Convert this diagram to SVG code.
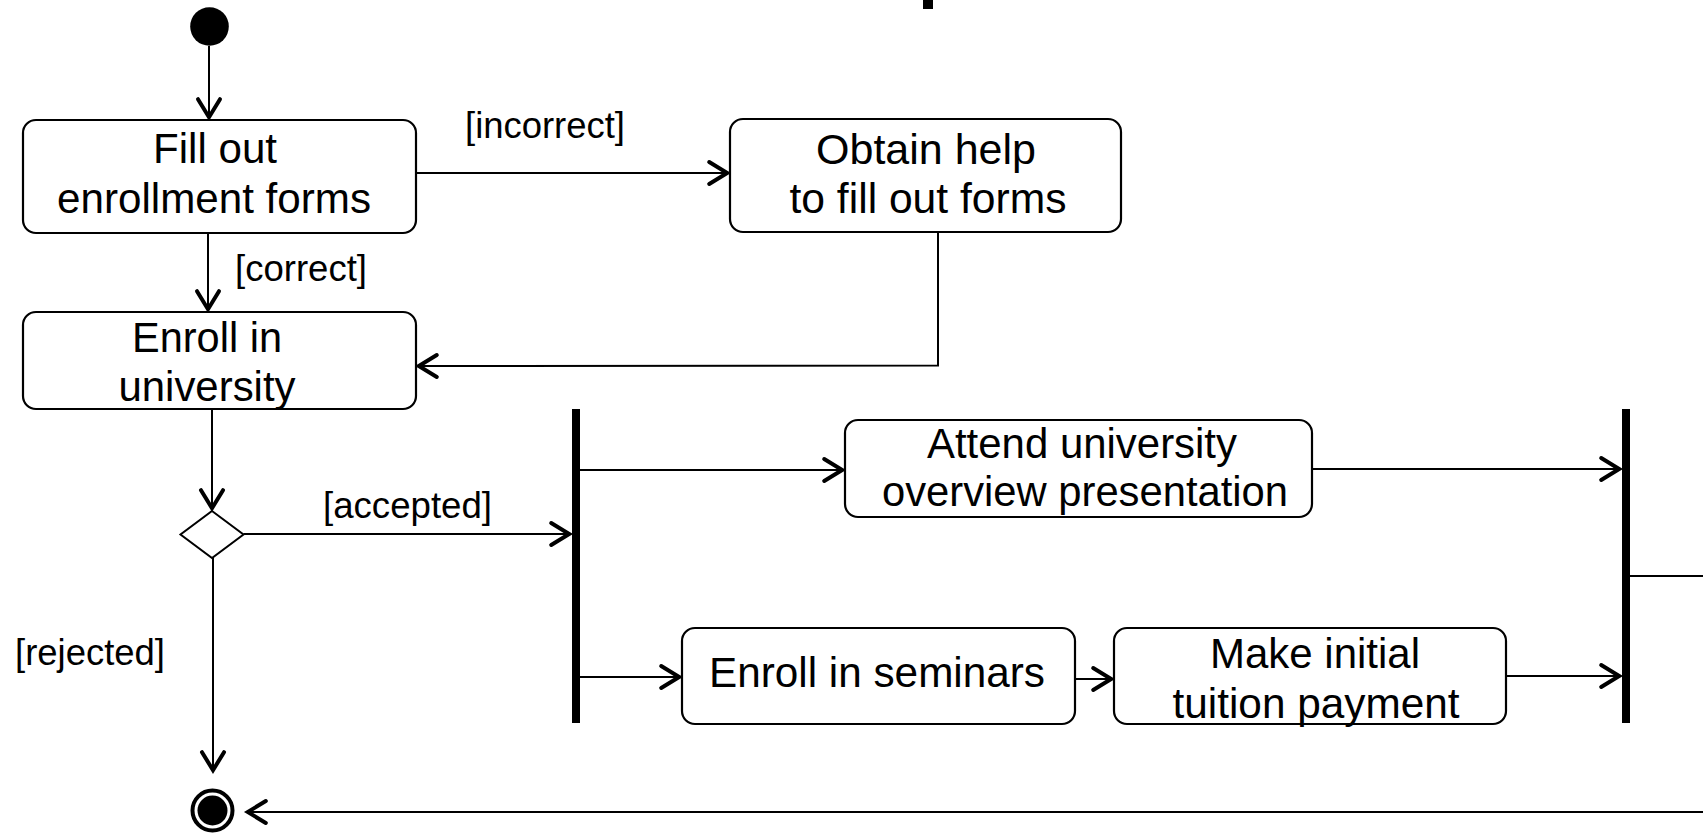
<svg xmlns="http://www.w3.org/2000/svg" width="1703" height="835" viewBox="0 0 1703 835">
  <style>
    .act { fill: #fff; stroke: #000; stroke-width: 2.2; }
    .lbl { font-family: "Liberation Sans", Arial, sans-serif; font-size: 42px; fill: #000; }
    .grd { font-family: "Liberation Sans", Arial, sans-serif; font-size: 37px; fill: #000; }
    .flow { fill: none; stroke: #000; stroke-width: 2; marker-end: url(#open); }
    .plain { fill: none; stroke: #000; stroke-width: 2; }
    .bar { fill: #000; }
  </style>
  <defs>
    <marker id="open" markerUnits="userSpaceOnUse" markerWidth="30" markerHeight="30" viewBox="-22 -15 26 30" refX="1.8" refY="0" orient="auto">
      <path d="M -18 -11 L 0 0 L -18 11" fill="none" stroke="#000" stroke-width="4" stroke-linejoin="miter" stroke-linecap="round"/>
    </marker>
  </defs>

  <rect width="1703" height="835" fill="#fff"/>

  <!-- piece of the heading above the diagram -->
  <rect x="923" y="0" width="10" height="9" fill="#000"/>

  <g id="connectors">
    <path class="flow" d="M 209 46 L 209 119"/>
    <path class="flow" d="M 208 233 L 208 311"/>
    <path class="flow" d="M 416 173 L 729 173"/>
    <path class="flow" d="M 938 232 L 938 365.5 L 417 366"/>
    <path class="flow" d="M 212 409 L 212 510"/>
    <path class="flow" d="M 243.5 534 L 571 534"/>
    <path class="flow" d="M 213 558 L 213 772"/>
    <path class="flow" d="M 580 470 L 844 470"/>
    <path class="flow" d="M 580 677 L 681 677"/>
    <path class="flow" d="M 1075 679 L 1113 679"/>
    <path class="flow" d="M 1312 469 L 1621 469"/>
    <path class="flow" d="M 1506 676 L 1621 676"/>
    <path class="plain" d="M 1630 576 L 1703 576"/>
    <path class="flow" d="M 1703 812 L 246 812"/>
    <text class="grd" x="465" y="138" textLength="160" lengthAdjust="spacingAndGlyphs">[incorrect]</text>
    <text class="grd" x="235" y="281" textLength="132" lengthAdjust="spacingAndGlyphs">[correct]</text>
    <text class="grd" x="323" y="517.5" textLength="169" lengthAdjust="spacingAndGlyphs">[accepted]</text>
    <text class="grd" x="15" y="664.5" textLength="150" lengthAdjust="spacingAndGlyphs">[rejected]</text>
  </g>

  <g id="start">
    <circle cx="209.5" cy="26.5" r="19.3" fill="#000"/>
  </g>

  <g id="fill-forms">
    <rect class="act" x="23" y="120" width="393" height="113" rx="13"/>
    <text class="lbl" x="215" y="163" text-anchor="middle" textLength="124" lengthAdjust="spacingAndGlyphs">Fill out</text>
    <text class="lbl" x="214" y="213" text-anchor="middle" textLength="314" lengthAdjust="spacingAndGlyphs">enrollment forms</text>
  </g>

  <g id="obtain-help">
    <rect class="act" x="730" y="119" width="391" height="113" rx="13"/>
    <text class="lbl" x="926" y="164" text-anchor="middle" textLength="220" lengthAdjust="spacingAndGlyphs">Obtain help</text>
    <text class="lbl" x="928" y="213" text-anchor="middle" textLength="277" lengthAdjust="spacingAndGlyphs">to fill out forms</text>
  </g>

  <g id="enroll-university">
    <rect class="act" x="23" y="312" width="393" height="97" rx="13"/>
    <text class="lbl" x="207" y="352" text-anchor="middle" textLength="150" lengthAdjust="spacingAndGlyphs">Enroll in</text>
    <text class="lbl" x="207" y="401" text-anchor="middle" textLength="177" lengthAdjust="spacingAndGlyphs">university</text>
  </g>

  <g id="decision">
    <polygon points="212,511 243.5,534.5 212,558 180.5,534.5" fill="#fff" stroke="#000" stroke-width="2"/>
  </g>

  <g id="fork">
    <rect class="bar" x="572" y="409" width="8" height="314"/>
  </g>

  <g id="attend-overview">
    <rect class="act" x="845" y="420" width="467" height="97" rx="13"/>
    <text class="lbl" x="1082" y="458" text-anchor="middle" textLength="310" lengthAdjust="spacingAndGlyphs">Attend university</text>
    <text class="lbl" x="1085" y="506" text-anchor="middle" textLength="406" lengthAdjust="spacingAndGlyphs">overview presentation</text>
  </g>

  <g id="enroll-seminars">
    <rect class="act" x="682" y="628" width="393" height="96" rx="13"/>
    <text class="lbl" x="877" y="687" text-anchor="middle" textLength="336" lengthAdjust="spacingAndGlyphs">Enroll in seminars</text>
  </g>

  <g id="tuition-payment">
    <rect class="act" x="1114" y="628" width="392" height="96" rx="13"/>
    <text class="lbl" x="1315" y="668" text-anchor="middle" textLength="210" lengthAdjust="spacingAndGlyphs">Make initial</text>
    <text class="lbl" x="1316" y="718" text-anchor="middle" textLength="287" lengthAdjust="spacingAndGlyphs">tuition payment</text>
  </g>

  <g id="join">
    <rect class="bar" x="1622" y="409" width="8" height="314"/>
  </g>

  <g id="end">
    <circle cx="212.5" cy="810.5" r="20" fill="#fff" stroke="#000" stroke-width="4"/>
    <circle cx="212.5" cy="810.5" r="15" fill="#000"/>
  </g>
</svg>
